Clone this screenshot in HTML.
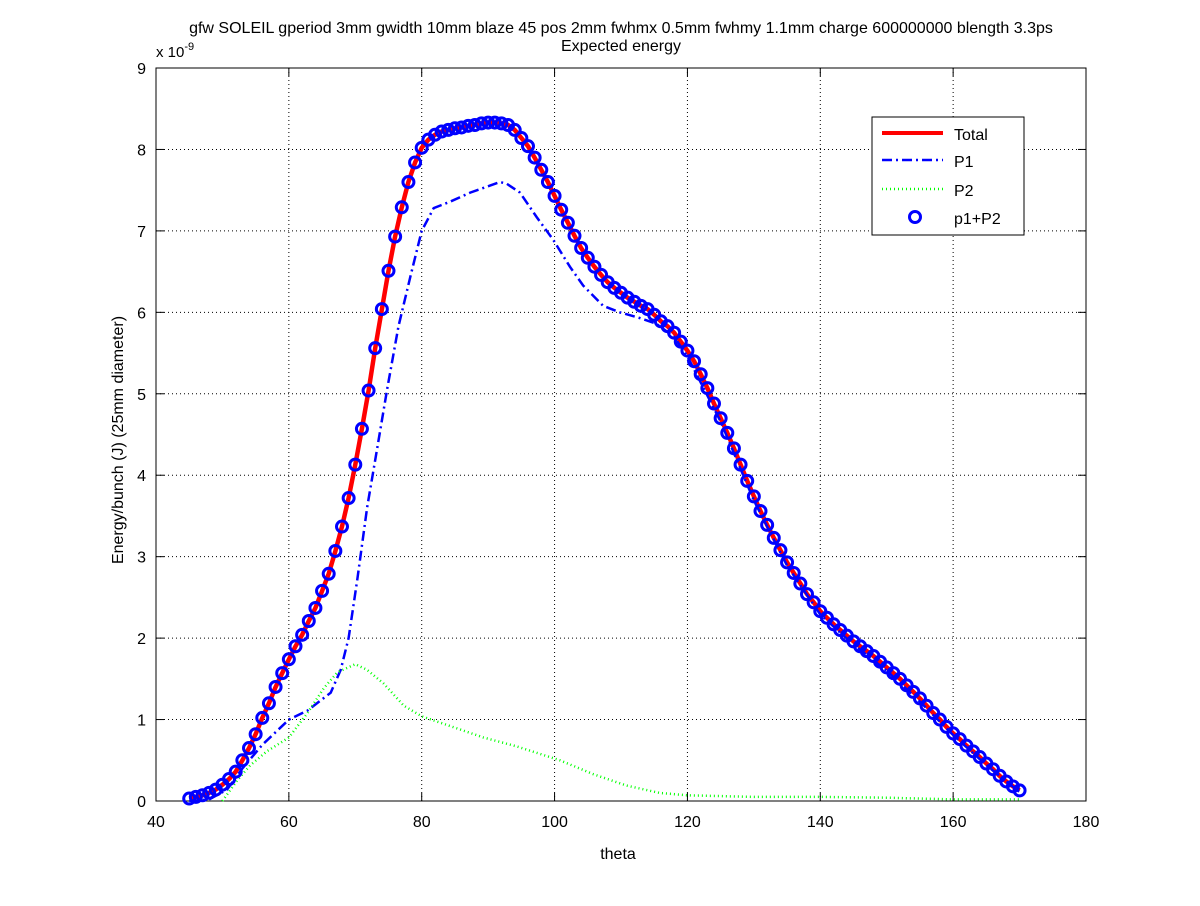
<!DOCTYPE html>
<html><head><meta charset="utf-8"><style>
body{margin:0;background:#fff;}
svg text{font-family:"Liberation Sans",sans-serif;}
</style></head><body>
<svg id="chart" width="1200" height="901" xmlns="http://www.w3.org/2000/svg">
<rect width="1200" height="901" fill="#fff"/>
<text x="621" y="33" font-size="16" text-anchor="middle">gfw SOLEIL gperiod 3mm gwidth 10mm blaze 45 pos 2mm fwhmx 0.5mm fwhmy 1.1mm charge 600000000 blength 3.3ps</text>
<text x="621" y="51" font-size="16" text-anchor="middle">Expected energy</text>
<g id="grid"></g><g id="axes"></g><g id="series"></g>
<text x="156" y="57" font-size="15">x 10<tspan dy="-7" font-size="11">-9</tspan></text>
<text x="618" y="859" font-size="16" text-anchor="middle">theta</text>
<text transform="translate(123,440) rotate(-90)" font-size="16" text-anchor="middle">Energy/bunch (J)  (25mm diameter)</text>
<g>
<rect x="872" y="117" width="152" height="118" fill="#fff" stroke="#000" stroke-width="1"/>
<line x1="882" y1="133" x2="943" y2="133" stroke="#f00" stroke-width="4"/>
<text x="954" y="140" font-size="16">Total</text>
<line x1="882" y1="160" x2="943" y2="160" stroke="#00f" stroke-width="2.5" stroke-dasharray="10,4,2,4"/>
<text x="954" y="167" font-size="16">P1</text>
<line x1="882" y1="189" x2="943" y2="189" stroke="#0f0" stroke-width="2.5" stroke-dasharray="1,3"/>
<text x="954" y="196" font-size="16">P2</text>
<circle cx="915" cy="217" r="5.5" fill="none" stroke="#00f" stroke-width="3"/>
<text x="954" y="224" font-size="16">p1+P2</text>
</g>
</svg>
<script>
const xTicks=[40,60,80,100,120,140,160,180];
const yTicks=[0,1,2,3,4,5,6,7,8,9];
const totalTheta=[];for(let t=45;t<=170;t++)totalTheta.push(t);
const totalVals=[0.03,0.05,0.07,0.1,0.14,0.2,0.27,0.36,0.5,0.65,0.82,1.02,1.2,1.4,1.57,1.74,1.9,2.04,2.21,2.37,2.58,2.79,3.07,3.37,3.72,4.13,4.57,5.04,5.56,6.04,6.51,6.93,7.29,7.6,7.84,8.02,8.12,8.18,8.22,8.24,8.26,8.27,8.29,8.3,8.32,8.33,8.33,8.32,8.3,8.24,8.14,8.04,7.9,7.75,7.6,7.43,7.26,7.1,6.94,6.79,6.67,6.56,6.46,6.37,6.3,6.24,6.18,6.13,6.08,6.04,5.97,5.89,5.83,5.75,5.64,5.53,5.4,5.24,5.07,4.88,4.7,4.52,4.33,4.13,3.93,3.74,3.56,3.39,3.23,3.08,2.93,2.8,2.67,2.54,2.44,2.33,2.25,2.17,2.1,2.03,1.96,1.9,1.84,1.78,1.71,1.64,1.57,1.5,1.42,1.34,1.26,1.17,1.08,1.0,0.91,0.83,0.76,0.68,0.61,0.54,0.46,0.39,0.31,0.24,0.18,0.13];
const p1Theta=[45,48,50.7,53,56,60,62.8,66.3,67.8,69,70.3,71.8,73.3,74.8,76.5,78.3,80,81.8,84.3,87.3,91.8,92.8,94.8,97.3,99.8,102.3,104.3,107.3,109.8,112.8,115.3,118,120,125,130,135,140,145,150,155,160,165,170];
const p1Vals=[0,0.02,0.14,0.4,0.69,1.0,1.11,1.33,1.61,2.0,2.72,3.61,4.33,5.06,5.83,6.44,7.0,7.28,7.36,7.47,7.6,7.58,7.47,7.17,6.89,6.56,6.33,6.08,6.0,5.93,5.86,5.7,5.46,4.66,3.69,2.89,2.29,1.92,1.6,1.22,0.81,0.44,0.11];
const p2Theta=[50,52.2,54.2,56.7,60,62.8,65.3,67.3,70,71.8,74.3,77.3,80,84.3,89.3,94.3,100.8,105.8,110.8,115.8,120,130,140,150,160,170];
const p2Vals=[0.0,0.25,0.44,0.61,0.78,1.08,1.39,1.58,1.68,1.61,1.44,1.17,1.04,0.92,0.78,0.67,0.5,0.33,0.19,0.1,0.07,0.05,0.05,0.04,0.02,0.02];
const X0=156,X1=1086,Y0=801,Y1=68;
const sx=v=>X0+(v-40)/(180-40)*(X1-X0);
const sy=v=>Y0-v/9*(Y0-Y1);
const NS='http://www.w3.org/2000/svg';
function mk(tag,attrs,parent){const e=document.createElementNS(NS,tag);for(const k in attrs)e.setAttribute(k,attrs[k]);parent.appendChild(e);return e;}
const grid=document.getElementById('grid'),axes=document.getElementById('axes'),ser=document.getElementById('series');
xTicks.forEach(t=>{
 if(t>40&&t<180){const g=mk('line',{x1:sx(t),x2:sx(t),y1:Y1,y2:Y0,stroke:'#000','stroke-width':1,'stroke-dasharray':'1,3'},grid);
 
 }
 mk('line',{x1:sx(t),x2:sx(t),y1:Y0,y2:Y0-8,stroke:'#000'},axes);
 mk('line',{x1:sx(t),x2:sx(t),y1:Y1,y2:Y1+8,stroke:'#000'},axes);
 const l=mk('text',{x:sx(t),y:Y0+26,'font-size':16,'text-anchor':'middle'},axes);l.textContent=t;
 
 
});
yTicks.forEach(t=>{
 if(t>0&&t<9){const g=mk('line',{x1:X0,x2:X1,y1:sy(t),y2:sy(t),stroke:'#000','stroke-width':1,'stroke-dasharray':'1,3'},grid);
 
 }
 mk('line',{x1:X0,x2:X0+8,y1:sy(t),y2:sy(t),stroke:'#000'},axes);
 mk('line',{x1:X1,x2:X1-8,y1:sy(t),y2:sy(t),stroke:'#000'},axes);
 const l=mk('text',{x:X0-10,y:sy(t)+6,'font-size':16,'text-anchor':'end'},axes);l.textContent=t;
 
 
});
const box=mk('rect',{x:X0,y:Y1,width:X1-X0,height:Y0-Y1,fill:'none',stroke:'#000','stroke-width':1},axes);


function pts(xs,ys){return xs.map((x,i)=>sx(x).toFixed(1)+','+sy(ys[i]).toFixed(1)).join(' ');}
const pTot=mk('polyline',{points:pts(totalTheta,totalVals),fill:'none',stroke:'#f00','stroke-width':4.5},ser);


const pP1=mk('polyline',{points:pts(p1Theta,p1Vals),fill:'none',stroke:'#00f','stroke-width':2.5,'stroke-dasharray':'10,4,2,4'},ser);


const pP2=mk('polyline',{points:pts(p2Theta,p2Vals),fill:'none',stroke:'#0f0','stroke-width':2.5,'stroke-dasharray':'1,3'},ser);


totalTheta.forEach((t,i)=>{
 const c=mk('circle',{cx:sx(t),cy:sy(totalVals[i]),r:5.5,fill:'none',stroke:'#00f','stroke-width':3},ser);
 
 
});
</script>
</body></html>
